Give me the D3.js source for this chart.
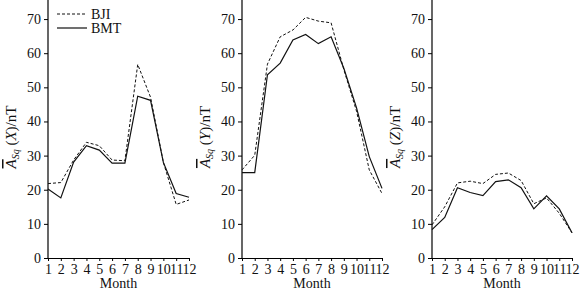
<!DOCTYPE html>
<html>
<head>
<meta charset="utf-8">
<script src="https://cdn.jsdelivr.net/npm/d3@7"></script>
<style>
  body { margin: 0; background: #fff; }
  svg { display: block; font-family: "Liberation Serif", "Times New Roman", serif; }
</style>
</head>
<body>
<div id="chart"></div>
<script>
const months = [1, 2, 3, 4, 5, 6, 7, 8, 9, 10, 11, 12];
const yTicks = [0, 10, 20, 30, 40, 50, 60, 70];
const seriesNames = ["BJI", "BMT"];

const bjiX = [21.8, 22.1, 28.7, 33.9, 32.9, 28.7, 28.5, 56.7, 47.1, 28.0, 15.7, 17.0];
const bmtX = [20.2, 17.6, 28.1, 32.9, 31.6, 27.8, 27.8, 47.4, 46.2, 28.0, 18.9, 17.8];
const bjiY = [25.8, 30.1, 56.8, 64.8, 66.8, 70.5, 69.4, 68.9, 55.2, 43.0, 25.8, 18.9];
const bmtY = [25.0, 25.0, 53.7, 57.1, 63.9, 65.5, 62.8, 64.8, 55.6, 44.0, 29.7, 20.4];
const bjiZ = [9.7, 15.0, 22.0, 22.5, 21.8, 24.5, 24.9, 22.7, 15.9, 17.6, 13.1, 7.4];
const bmtZ = [8.3, 11.9, 20.6, 19.2, 18.3, 22.4, 22.9, 20.6, 14.4, 18.2, 14.4, 7.4];

const panels = [
  { comp: "X", bji: bjiX, bmt: bmtX, left: 48, right: 189, legend: true },
  { comp: "Y", bji: bjiY, bmt: bmtY, left: 242, right: 382, legend: false },
  { comp: "Z", bji: bjiZ, bmt: bmtZ, left: 432, right: 572, legend: false }
];

const width = 584, height = 294;
const marginTop = 2, axisBottom = 258;

const svg = d3.select("#chart").append("svg")
    .attr("width", width)
    .attr("height", height)
    .attr("viewBox", [0, 0, width, height]);

const y = d3.scaleLinear().domain([0, 75]).range([axisBottom, marginTop]);

panels.forEach(p => {
    const x = d3.scaleLinear().domain([1, 12]).range([p.left, p.right]);
    const g = svg.append("g");

    g.append("g")
        .attr("transform", `translate(0,${axisBottom})`)
        .call(d3.axisBottom(x).tickValues(months).tickSize(3).tickSizeOuter(0).tickPadding(3))
        .call(a => a.select(".domain").attr("stroke-width", 1.2))
        .call(a => a.selectAll(".tick text").attr("font-size", 14).attr("fill", "#111")
            .attr("font-family", "Liberation Serif"));

    g.append("g")
        .attr("transform", `translate(${p.left},0)`)
        .call(d3.axisLeft(y).tickValues(yTicks).tickSize(4).tickSizeOuter(0).tickPadding(3))
        .call(a => a.select(".domain").attr("d", `M0,${axisBottom}V0`).attr("stroke-width", 1.2))
        .call(a => a.selectAll(".tick text").attr("font-size", 14).attr("fill", "#111")
            .attr("font-family", "Liberation Serif"));

    g.append("text")
        .attr("x", (p.left + p.right) / 2)
        .attr("y", 288)
        .attr("text-anchor", "middle")
        .attr("font-size", 14)
        .attr("fill", "#111")
        .text("Month");

    // y label
    const lab = g.append("text")
        .attr("transform", `translate(${p.left - 32},137) rotate(-90)`)
        .attr("text-anchor", "middle")
        .attr("font-size", 15)
        .attr("fill", "#111");
    lab.append("tspan").attr("font-style", "italic")
        .style("text-decoration", "overline").text("A");
    lab.append("tspan").attr("font-style", "italic").attr("font-size", 10)
        .attr("dy", 3).text("Sq");
    lab.append("tspan").attr("dy", -3).text(" (");
    lab.append("tspan").attr("font-style", "italic").text(p.comp);
    lab.append("tspan").text(")/nT");

    const line = d3.line().x((d, i) => x(months[i])).y(d => y(d));

    g.append("path")
        .datum(p.bji)
        .attr("fill", "none")
        .attr("stroke", "#111")
        .attr("stroke-width", 1)
        .attr("stroke-dasharray", "3,2")
        .attr("d", line);

    g.append("path")
        .datum(p.bmt)
        .attr("fill", "none")
        .attr("stroke", "#111")
        .attr("stroke-width", 1.2)
        .attr("d", line);

    if (p.legend) {
        const leg = g.append("g").attr("font-size", 14).attr("fill", "#111");
        seriesNames.forEach((name, i) => {
            leg.append("line")
                .attr("x1", 57).attr("x2", 87)
                .attr("y1", 14 + i * 14).attr("y2", 14 + i * 14)
                .attr("stroke", "#111")
                .attr("stroke-width", i === 0 ? 1 : 1.2)
                .attr("stroke-dasharray", i === 0 ? "3,2" : null);
            leg.append("text")
                .attr("x", 91).attr("y", 14 + i * 14)
                .attr("dy", "0.35em")
                .text(name);
        });
    }
});
</script>
</body>
</html>
